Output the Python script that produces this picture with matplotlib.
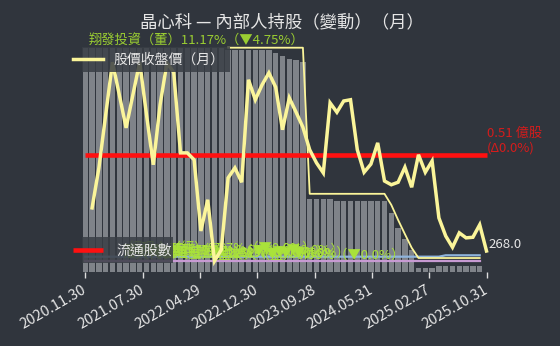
import numpy as np
import matplotlib
matplotlib.use('Agg')
import matplotlib.pyplot as plt
from matplotlib.patches import Rectangle

plt.rcParams['font.family'] = ['Noto Sans CJK TC', 'DejaVu Sans']

# ---------------- data ----------------
tick_labels = ['2020.11.30', '2021.07.30', '2022.04.29', '2022.12.30',
               '2023.09.28', '2024.05.31', '2025.02.27', '2025.10.31']

# insider holding (bars), 59 months
insider_pct = ([24.1] * 21 + [23.9] * 7 + [23.6, 23.3, 22.95, 22.85, 22.6] +
               [7.87] * 4 + [7.70] + [7.60] * 7 + [6.36, 4.74, 3.56, 2.37] +
               [0.43] * 3 + [0.65] * 7)

# monthly close price (first month missing)
price = [np.nan, 337, 401, 486, 570, 518, 465, 518, 570, 486, 406, 502, 569, 554,
         425, 425, 414, 300, 350, 252, 270, 385, 401, 378, 542, 510, 534, 553,
         530, 462, 513, 490, 466, 430, 409, 393, 505, 490, 508, 510, 430, 394,
         407, 441, 380, 374, 378, 402, 370, 422, 394, 412, 321, 292, 274, 297,
         289, 290, 310, 268.0]

# 翔發投資(董) holding %
xiangfa = ([np.nan] * 21 + [15.92] * 12 + [12.62] * 12 +
           [12.37, 12.03, 11.71, 11.40] + [11.17] * 10)

# floating shares (億股)
float_shares = [0.51] * 60

# two small holders
holder_blue = [1.65] * 53 + [1.80] * 6
holder_pink = [1.22] * 59

other_labels = ['監察人（監）0.58%（▼0.0%）', '法人董事（董）1.65%（▼0.0%）',
                '獨立董事（董）0.13%（▼0.0%）', '經理人（經）0.17%（▼0.0%）',
                '董事（董）0.52%（▼0.0%）', '法人代表（董）1.22%（▼0.0%）',
                '董事長（董）0.92%（▼0.0%）', '總經理（經）0.37%（▼0.0%）']
other_anchor = [47, 38, 36, 34, 37, 35, 33, 39]
other_value = [1.15, 1.65, 1.45, 1.90, 1.30, 1.22, 1.55, 1.35]

# ---------------- style ----------------
BG = '#30353d'
BAR = '#7f8389'
YEL = '#fbf59a'
GRN = '#9acd32'
LIME = '#a9e23a'
TXT = '#e6e6e6'

fig = plt.figure(figsize=(5.6, 3.46), dpi=100, facecolor=BG)
ax = fig.add_axes([81.9 / 560, 74 / 346, 408 / 560, 232 / 346])
ax.set_facecolor(BG)

n = len(price)
x = np.arange(n)

ax.bar(np.arange(len(insider_pct)), insider_pct, width=0.8, color=BAR, zorder=1)
ax.plot(np.arange(len(holder_blue)), holder_blue, color='#8fb4dc', lw=1.6, zorder=2)
ax.plot(np.arange(len(holder_pink)), holder_pink, color='#c79ad2', lw=1.6, zorder=2)
ax.set_ylim(0, 25)
ax.set_xlim(-0.5, n - 0.5)

for t, xi, v in zip(other_labels, other_anchor, other_value):
    ax.text(xi, v, t, color=LIME, fontsize=9.5, ha='right', va='bottom', zorder=3)

axh = ax.twinx()
axh.plot(np.arange(len(xiangfa)), xiangfa, color=YEL, lw=1.3, zorder=2)
axh.set_ylim(10.854, 16.094)
axh.text(32.2, 15.92, '翔發投資（董）11.17%（▼4.75%）', color=GRN, fontsize=9.5,
         ha='right', va='bottom')

axr = ax.twinx()
red_line, = axr.plot(x, float_shares, color='#ff1010', lw=3.3, solid_capstyle='butt')
axr.set_ylim(0, 1.0113)
axr.text(n - 1 + 0.1, float_shares[-1], '0.51 億股\n(Δ0.0%)', color='#d41c1c',
         fontsize=9.5, ha='left', va='bottom', linespacing=1.25)

axp = ax.twinx()
price_line, = axp.plot(x, price, color=YEL, lw=2.5, solid_joinstyle='miter')
axp.set_ylim(234.4, 605.6)
axp.text(n - 1 + 0.3, price[-1], f'{price[-1]:.1f}', color=TXT, fontsize=9.5,
         ha='left', va='bottom')

for a in (ax, axh, axr, axp):
    for s in a.spines.values():
        s.set_visible(False)
    a.set_yticks([])
    a.patch.set_visible(a is ax)

ax.set_xticks(np.linspace(0, n - 1, 8))
ax.set_xticklabels(tick_labels, rotation=30, ha='right', va='center',
                   rotation_mode='anchor', color=TXT, fontsize=10.5)
ax.tick_params(axis='x', length=4, width=1, color='#dddddd', pad=8)

# legend boxes
axp.add_patch(Rectangle((0.0, 0.862), 0.363, 0.108, transform=axp.transAxes,
                        facecolor='#393e45', alpha=0.85, edgecolor='none',
                        zorder=5, clip_on=False))
axp.add_patch(Rectangle((0.0, 0.0388), 0.2233, 0.112, transform=axp.transAxes,
                        facecolor='#393e45', alpha=0.85, edgecolor='none',
                        zorder=5, clip_on=False))

leg1 = axp.legend([price_line], ['股價收盤價（月）'], loc='center left',
                  bbox_to_anchor=(-0.022, 0.914), frameon=False, fontsize=10,
                  handlelength=2.2, handletextpad=0.7, borderpad=0,
                  borderaxespad=0, labelcolor=TXT)
leg1.set_zorder(6)
axp.add_artist(leg1)
leg2 = axp.legend([red_line], ['流通股數'], loc='center left',
                  bbox_to_anchor=(-0.022, 0.093), frameon=False, fontsize=10,
                  handlelength=2.2, handletextpad=0.9, borderpad=0,
                  borderaxespad=0, labelcolor=TXT)
leg2.set_zorder(6)

fig.text(282 / 560, 1 - 22 / 346, '晶心科 — 內部人持股（變動）（月）', color=TXT,
         fontsize=12.5, ha='center', va='center')

fig.savefig('out.png', dpi=100, facecolor=BG)
